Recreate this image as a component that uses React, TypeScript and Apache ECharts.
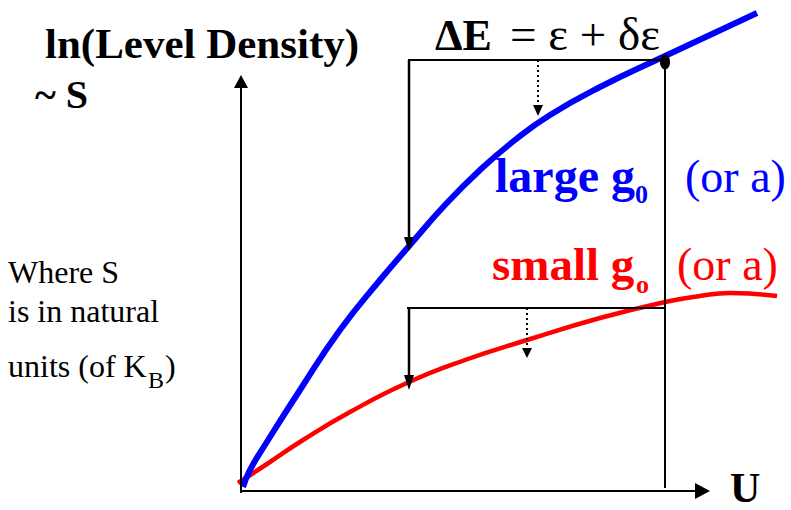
import React, { useEffect, useRef } from "react";
import * as echarts from "echarts";

// Entropy curves S(U) for two single-particle level densities
const blueCurve: [number, number][] = [
  [0.4, 0.8], [1.8, 4.2], [4.8, 9.2], [11.8, 20.2], [19.8, 32.2], [27.8, 42.2],
  [33.8, 49.2], [40.8, 57.2], [47.8, 64.2], [54.8, 70.2], [61.8, 75.2],
  [71.8, 80.8], [84.8, 87], [103.2, 95.6],
];
const redCurve: [number, number][] = [
  [-0.6, 1.6], [5.8, 5.8], [12.4, 10.2], [21.8, 15.8], [33.6, 21.8], [44.8, 26.2],
  [57.2, 30.2], [71.8, 34.6], [84.8, 37.8], [91.8, 39], [97.8, 39.6],
  [102.8, 39.4], [107.2, 39],
];

// Axis extents (U to the right, S upward)
const uAxisEnd = 93.8;
const sAxisEnd = 83.2;

// Energy window: from U - ΔE to U
const windowLeftU = 33.6;
const windowRightU = 84.8;
const upperLevelS = 86.2;
const lowerLevelS = 36.6;
const upperArrowTipS = 48;
const lowerArrowTipS = 20.2;
const upperDottedU = 59.4;
const upperDottedTipS = 75;
const lowerDottedU = 57.2;
const lowerDottedTipS = 26.6;
const markerS = 85.8;

const FONT = "Liberation Serif, serif";

type Pt = [number, number];

function label(text: string, x: number, baseline: number, size: number, color: string, weight = "normal") {
  return {
    type: "text",
    x,
    y: baseline - 0.34 * size,
    z: 30,
    style: {
      text,
      fill: color,
      font: `${weight} ${size}px ${FONT}`,
      textAlign: "left",
      textVerticalAlign: "middle",
    },
  };
}

function arrowHead(tip: Pt, from: Pt, len: number, half: number) {
  const dx = tip[0] - from[0];
  const dy = tip[1] - from[1];
  const d = Math.hypot(dx, dy) || 1;
  const ux = dx / d;
  const uy = dy / d;
  const bx = tip[0] - ux * len;
  const by = tip[1] - uy * len;
  return {
    type: "polygon",
    z: 20,
    shape: { points: [tip, [bx - uy * half, by + ux * half], [bx + uy * half, by - ux * half]] },
    style: { fill: "#000" },
  };
}

function seg(a: Pt, b: Pt, width = 2, dash?: number[]) {
  return {
    type: "line",
    z: 10,
    shape: { x1: a[0], y1: a[1], x2: b[0], y2: b[1] },
    style: { stroke: "#000", lineWidth: width, lineDash: dash, lineCap: "butt" },
  };
}

export default function App() {
  const ref = useRef<HTMLDivElement>(null);

  useEffect(() => {
    const el = ref.current;
    if (!el) return;
    const chart = echarts.init(el, null, { renderer: "svg" });
    chart.setOption({
      animation: false,
      backgroundColor: "#ffffff",
      grid: { left: 191, right: 0, top: 1, bottom: 4 },
      xAxis: { type: "value", min: -10, max: 110, show: false },
      yAxis: { type: "value", min: -3, max: 98, show: false },
      series: [
        {
          type: "line",
          data: redCurve,
          smooth: 0.5,
          showSymbol: false,
          silent: true,
          z: 3,
          lineStyle: { color: "#ff0000", width: 4.5 },
        },
        {
          type: "line",
          data: blueCurve,
          smooth: 0.5,
          showSymbol: false,
          silent: true,
          z: 4,
          lineStyle: { color: "#0000ff", width: 6 },
        },
      ],
    });

    const px = (u: number, s: number): Pt =>
      chart.convertToPixel({ xAxisIndex: 0, yAxisIndex: 0 }, [u, s]) as Pt;

    const origin = px(0, 0);
    const yTop = px(0, sAxisEnd);
    const xEnd = px(uAxisEnd, 0);

    const tl = px(windowLeftU, upperLevelS);
    const tr = px(windowRightU, upperLevelS);
    const bl = px(windowLeftU, lowerLevelS);
    const br = px(windowRightU, lowerLevelS);
    const vBottom = px(windowRightU, 0.6);

    const upTip = px(windowLeftU, upperArrowTipS);
    const lowTip = px(windowLeftU, lowerArrowTipS);
    const upDotTop = px(upperDottedU, upperLevelS);
    const upDotTip = px(upperDottedU, upperDottedTipS);
    const lowDotTop = px(lowerDottedU, lowerLevelS);
    const lowDotTip = px(lowerDottedU, lowerDottedTipS);
    const marker = px(windowRightU, markerS);

    const elements: any[] = [
      // axes
      seg([origin[0], origin[1] + 2], [yTop[0], yTop[1] + 10], 2),
      arrowHead(yTop, origin, 13, 7),
      seg([origin[0] - 1, origin[1]], [xEnd[0] - 12, xEnd[1]], 2),
      arrowHead(xEnd, origin, 15, 8),

      // upper window
      seg([tl[0] - 1, tl[1]], tr, 2),
      seg(tl, [upTip[0], upTip[1] - 12], 2.5),
      arrowHead(upTip, tl, 14, 5),
      seg(upDotTop, [upDotTip[0], upDotTip[1] - 8], 2, [2, 3]),
      arrowHead(upDotTip, upDotTop, 11, 5),

      // right edge of the window
      seg(tr, vBottom, 2),
      {
        type: "ellipse",
        z: 25,
        shape: { cx: marker[0], cy: marker[1], rx: 5, ry: 7.5 },
        style: { fill: "#000" },
      },

      // lower window
      seg([bl[0] - 2, bl[1]], br, 2),
      seg(bl, [lowTip[0], lowTip[1] - 12], 2.5),
      arrowHead(lowTip, bl, 15, 5),
      seg(lowDotTop, [lowDotTip[0], lowDotTip[1] - 8], 2, [2, 3]),
      arrowHead(lowDotTip, lowDotTop, 10, 5),

      // texts
      label("ln(Level Density)", 45, 58, 43, "#000", "bold"),
      label("~ S", 35, 108, 40, "#000", "bold"),
      label("ΔE", 435, 50, 44, "#000", "bold"),
      label("= ε + δε", 510, 50, 47, "#000"),
      label("large g", 495, 192, 48, "#0000ff", "bold"),
      label("0", 635, 203, 26, "#0000ff", "bold"),
      label("(or a)", 685, 192, 46, "#0000ff"),
      label("small g", 492, 280, 47, "#ff0000", "bold"),
      label("o", 636, 293, 26, "#ff0000", "bold"),
      label("(or a)", 677, 280, 46, "#ff0000"),
      label("Where S", 8, 283, 32, "#000"),
      label("is in natural", 8, 322, 32, "#000"),
      label("units (of K", 8, 377, 32, "#000"),
      label("B", 148, 388, 24, "#000"),
      label(")", 165, 377, 32, "#000"),
      label("U", 730, 502, 42, "#000", "bold"),
    ];

    chart.setOption({ graphic: { elements } });

    return () => {
      chart.dispose();
    };
  }, []);

  return (
    <div
      ref={ref}
      style={{ position: "fixed", left: 0, top: 0, width: 791, height: 510, background: "#fff" }}
    />
  );
}
